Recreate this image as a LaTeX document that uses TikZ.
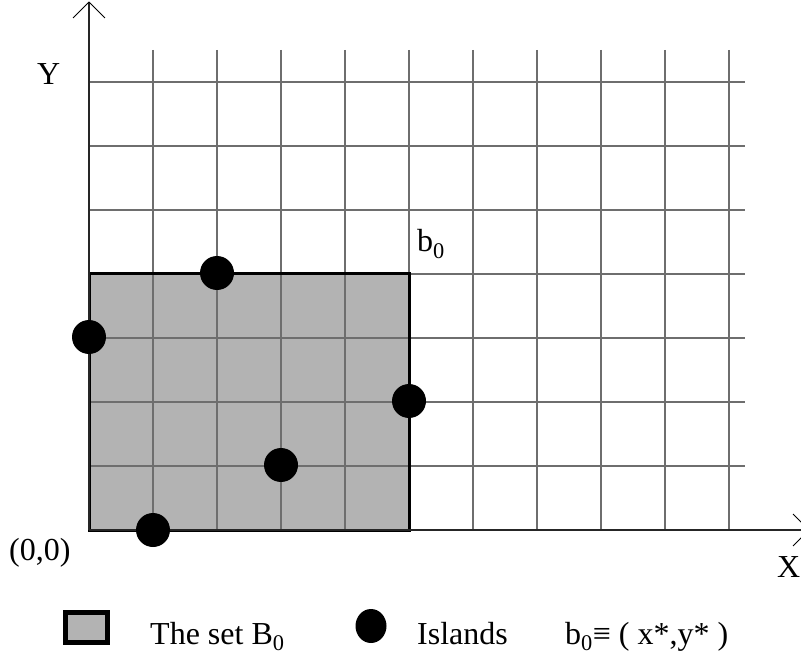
\documentclass[tikz,border=0pt]{standalone}
\usepackage{fontspec}
\setmainfont{Liberation Serif}
\usetikzlibrary{shapes.geometric}
\definecolor{boxgray}{RGB}{179,179,179}
\definecolor{gridgray}{RGB}{110,110,110}
\begin{document}
\begin{tikzpicture}[x=1pt,y=-1pt,
  gridline/.style={draw=gridgray, line width=1.4pt},
  axisline/.style={draw=black!85, line width=1.3pt},
  armline/.style={draw=black, line width=1pt},
  island/.style={circle, fill=black, minimum size=34pt, inner sep=0pt},
  lbl/.style={inner sep=0pt, anchor=base west, font=\fontsize{32}{36}\selectfont}]
\useasboundingbox (0,0) rectangle (801,655);
% the set B0
\node[fill=boxgray, minimum width=320pt, minimum height=256pt, inner sep=0pt, outer sep=0pt, anchor=south west] (setB) at (89,530) {};
% grid
\foreach \i in {1,...,10} \draw[gridline] (89+64*\i,50) -- (89+64*\i,530);
\foreach \j in {1,...,7} \draw[gridline] (89,530-64*\j) -- (745,530-64*\j);
\draw[line width=3pt] (setB.south west) rectangle (setB.north east);
% axes
\coordinate (O) at (89,530);
\coordinate (ytip) at (89,2);
\coordinate (xtip) at (809,530);
\draw[axisline] (O) -- (ytip);
\draw[axisline] (O) -- (xtip);
\draw[armline] (ytip) -- ++(-16,16);
\draw[armline] (ytip) -- ++(16,16);
\draw[armline] (xtip) -- ++(-16,-16);
\draw[armline] (xtip) -- ++(-16,16);
% islands
\node[island] (i1) at (217,273) {};
\node[island] (i2) at (89,337) {};
\node[island] (i3) at (409,401) {};
\node[island] (i4) at (281,465) {};
\node[island] (i5) at (153,530) {};
% labels
\node[lbl] (ylab) at (37,85) {Y};
\node[lbl] (xlab) at (777,577) {X};
\node[lbl] (olab) at (9,560) {(0,0)};
\node[lbl] (b0lab) at (417,252) {b\textsubscript{0}};
% legend
\node[draw=black, line width=5pt, fill=boxgray, minimum width=42pt, minimum height=30pt, inner sep=0pt] (legbox) at (86.5,627.5) {};
\node[lbl] (legboxtxt) at (150,644) {The set B\textsubscript{0}};
\node[ellipse, fill=black, minimum width=31pt, minimum height=34pt, inner sep=0pt] (legdot) at (371,626) {};
\node[lbl] (legdottxt) at (417,644) {Islands};
\node[lbl] (legb0) at (565,644) {b\textsubscript{0}≡ ( x*,y* )};
\end{tikzpicture}
\end{document}
